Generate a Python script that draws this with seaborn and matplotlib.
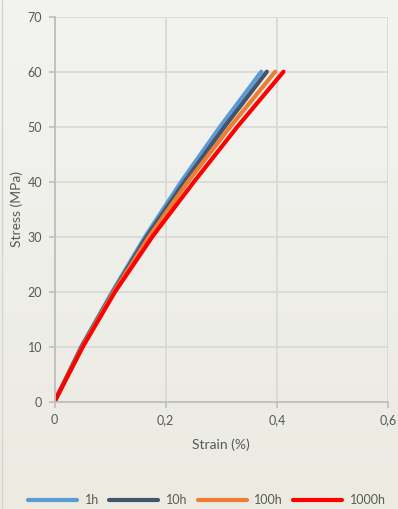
import matplotlib
matplotlib.use("Agg")
import matplotlib.pyplot as plt
from matplotlib.lines import Line2D
import numpy as np
import pandas as pd
import seaborn as sns

# Stress levels (MPa) and the strain (%) reached at each level per ageing time
stress = [0, 10, 20, 30, 40, 50, 60]
strain_1h = [0, 0.048, 0.104, 0.163, 0.228, 0.298, 0.372]
strain_10h = [0, 0.049, 0.106, 0.166, 0.234, 0.306, 0.382]
strain_100h = [0, 0.050, 0.107, 0.170, 0.240, 0.316, 0.397]
strain_1000h = [0, 0.051, 0.109, 0.176, 0.251, 0.329, 0.412]

series_names = ["1h", "10h", "100h", "1000h"]
series_colors = ["#5B9BD5", "#44546A", "#ED7D31", "#FF0000"]

x_ticks = [0, 0.2, 0.4, 0.6]
x_tick_labels = ["0", "0,2", "0,4", "0,6"]
y_ticks = [0, 10, 20, 30, 40, 50, 60, 70]
y_tick_labels = ["0", "10", "20", "30", "40", "50", "60", "70"]

frames = []
for name, strain in zip(series_names,
                        [strain_1h, strain_10h, strain_100h, strain_1000h]):
    frames.append(pd.DataFrame({"Strain": strain, "Stress": stress,
                                "Time": name}))
df = pd.concat(frames, ignore_index=True)

sns.set_theme(style="white")
plt.rcParams["font.family"] = ["Lato", "DejaVu Sans"]

text_color = "#595959"
grid_color = "#d9d9d9"
axis_color = "#bfbfbf"

W, H = 398, 509
fig = plt.figure(figsize=(W / 100, H / 100), dpi=100)

# soft page background, slightly warmer towards the bottom
top_c = np.array([243, 243, 241]) / 255
bot_c = np.array([235, 235, 226]) / 255
t = np.linspace(0, 1, H)[:, None, None]
grad = (1 - t) * top_c + t * bot_c
grad = np.repeat(grad, W, axis=1)
fig.figimage(grad, xo=0, yo=0, origin="upper", zorder=-10)

ax = fig.add_axes([54.5 / W, 1 - 401.7 / H, (388 - 54.5) / W,
                   (401.7 - 16.7) / H])
ax.set_zorder(5)
ax.patch.set_alpha(0)

sns.lineplot(data=df, x="Strain", y="Stress", hue="Time",
             hue_order=series_names, palette=series_colors,
             sort=False, estimator=None, linewidth=3,
             solid_capstyle="round", solid_joinstyle="round",
             ax=ax, legend=False)

ax.set_xlim(0, 0.6)
ax.set_ylim(0, 70)
ax.set_xticks(x_ticks)
ax.set_xticklabels(x_tick_labels)
ax.set_yticks(y_ticks)
ax.set_yticklabels(y_tick_labels)

ax.grid(True, color=grid_color, linewidth=1.3)
ax.set_axisbelow(True)
for side in ["top", "right"]:
    ax.spines[side].set_visible(False)
for side in ["left", "bottom"]:
    ax.spines[side].set_color(axis_color)
    ax.spines[side].set_linewidth(1.3)

ax.tick_params(axis="both", which="major", length=4, width=1.2,
               color=axis_color, labelcolor=text_color, labelsize=9,
               direction="out", bottom=True, left=True)
ax.tick_params(axis="x", pad=5)
ax.tick_params(axis="y", pad=5)

ax.set_xlabel("Strain (%)", color=text_color, fontsize=10, labelpad=9)
ax.set_ylabel("Stress (MPa)", color=text_color, fontsize=10, labelpad=3)

handles = [Line2D([0], [0], color=c, linewidth=3, solid_capstyle="round")
           for c in series_colors]
leg = fig.legend(handles, series_names, loc="center",
                 bbox_to_anchor=(207 / W, 1 - 500 / H), ncol=4,
                 frameon=False, fontsize=9, handlelength=3.9,
                 handletextpad=0.6, columnspacing=0.85,
                 labelcolor=text_color)
leg.set_zorder(6)

# thin slide border on the left edge
fig.add_artist(Line2D([1.5 / W, 1.5 / W], [0, 1], color="#d4d4d0",
                      linewidth=1.0, transform=fig.transFigure))

fig.savefig("out.png", dpi=100)
